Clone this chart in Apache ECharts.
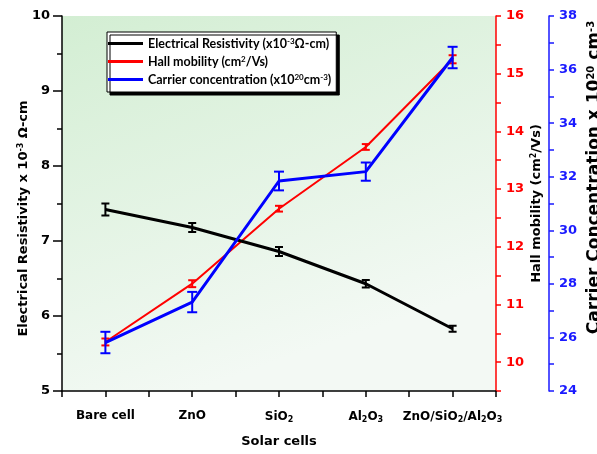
<!DOCTYPE html>
<html>
<head>
<meta charset="utf-8">
<script src="https://cdn.jsdelivr.net/npm/echarts@6/dist/echarts.min.js"></script>
<style>html,body{margin:0;padding:0;background:#fff}#c{width:597px;height:454px}</style>
</head>
<body>
<div id="c"></div>
<script>
const categories = ['Bare cell', 'ZnO', 'SiO2', 'Al2O3', 'ZnO/SiO2/Al2O3'];
const categoryLabels = ['Bare cell', 'ZnO', 'SiO{sub|2}', 'Al{sub|2}O{sub|3}', 'ZnO/SiO{sub|2}/Al{sub|2}O{sub|3}'];
const resistivity = [7.42, 7.18, 6.86, 6.43, 5.83];
const resistivityErr = [0.08, 0.06, 0.06, 0.05, 0.04];
const mobility = [10.35, 11.36, 12.66, 13.73, 15.25];
const mobilityErr = [0.06, 0.06, 0.05, 0.05, 0.07];
const carrier = [25.81, 27.32, 31.84, 32.19, 36.45];
const carrierErr = [0.40, 0.38, 0.35, 0.34, 0.40];
const leftTicks = [5, 6, 7, 8, 9, 10];
const redTicks = [10, 11, 12, 13, 14, 15, 16];
const blueTicks = [24, 26, 28, 30, 32, 34, 36, 38];

const FONT = 'DejaVu Sans';
const LFONT = 'Lato';
const chart = echarts.init(document.getElementById('c'), null, {renderer: 'canvas'});

function errSeries(name, vals, errs, yIdx, color, capW, lw, z) {
  return {
    type: 'custom', name: name + ' err', yAxisIndex: yIdx, z: z, silent: true,
    data: vals.map((v, i) => [i, v - errs[i], v + errs[i]]),
    renderItem: function (params, api) {
      const lo = api.coord([api.value(0), api.value(1)]);
      const hi = api.coord([api.value(0), api.value(2)]);
      const st = {stroke: color, lineWidth: lw};
      return {type: 'group', children: [
        {type: 'line', shape: {x1: lo[0], y1: lo[1], x2: hi[0], y2: hi[1]}, style: st},
        {type: 'line', shape: {x1: lo[0] - capW, y1: lo[1], x2: lo[0] + capW, y2: lo[1]}, style: st},
        {type: 'line', shape: {x1: hi[0] - capW, y1: hi[1], x2: hi[0] + capW, y2: hi[1]}, style: st}
      ]};
    }
  };
}

const legendRich = {
  t: {fontFamily: LFONT, fontWeight: 'bold', fontSize: 12.5, color: '#000'},
  s: {fontFamily: LFONT, fontWeight: 'bold', fontSize: 8, color: '#000', verticalAlign: 'top'}
};
const legendFmt = {
  'Electrical Resistivity': '{t|Electrical Resistivity (x10}{s|-3}{t|Ω-cm)}',
  'Hall mobility': '{t|Hall mobility (cm}{s|2}{t|/Vs)}',
  'Carrier concentration': '{t|Carrier concentration (x10}{s|20}{t|cm}{s|-3}{t|)}'
};
const supRich = {s: {fontFamily: FONT, fontWeight: 'bold', fontSize: 8, color: '#000', verticalAlign: 'top'}};
const supRichBig = {s: {fontFamily: FONT, fontWeight: 'bold', fontSize: 10, color: '#000', verticalAlign: 'top'}};

const option = {
  animation: false,
  backgroundColor: '#fff',
  grid: {
    left: 62, right: 101, top: 16, bottom: 63, show: true, borderWidth: 0,
    containLabel: false, outerBoundsMode: 'none',
    backgroundColor: {type: 'linear', x: 0, y: 0, x2: 0.3, y2: 1, colorStops: [
      {offset: 0, color: '#d3eed3'}, {offset: 1, color: '#f3f9f4'}]}
  },
  legend: {
    left: 107, top: 32, orient: 'vertical', itemGap: 5, itemWidth: 35, itemHeight: 3,
    icon: 'rect', itemTextGap: 4, padding: [5, 5, 6, 1],
    backgroundColor: '#fff', borderColor: '#000', borderWidth: 1,
    shadowColor: '#000', shadowOffsetX: 3, shadowOffsetY: 3, shadowBlur: 0,
    data: ['Electrical Resistivity', 'Hall mobility', 'Carrier concentration'],
    formatter: n => legendFmt[n],
    textStyle: {rich: legendRich}
  },
  xAxis: [{
    type: 'category', data: categories, boundaryGap: true,
    name: 'Solar cells', nameLocation: 'middle', nameGap: 44,
    nameTextStyle: {fontFamily: FONT, fontWeight: 'bold', fontSize: 13, color: '#000'},
    axisLine: {lineStyle: {color: '#000', width: 1.5}},
    axisTick: {show: false},
    axisLabel: {
      margin: 19, interval: 0,
      formatter: (v, i) => '{m|' + categoryLabels[i].replace(/\{sub\|(\d)\}/g, '}{sub|$1}{m|') + '}',
      rich: {
        m: {fontFamily: FONT, fontWeight: 'bold', fontSize: 12, color: '#000'},
        sub: {fontFamily: FONT, fontWeight: 'bold', fontSize: 8, color: '#000', verticalAlign: 'bottom', padding: [6, 0, 0, 0]}
      }
    },
    splitLine: {show: false}
  }, {
    type: 'category', data: ['', '', '', '', '', '', '', '', '', ''], boundaryGap: true, position: 'bottom',
    axisLine: {show: false}, axisLabel: {show: false}, splitLine: {show: false},
    axisTick: {show: true, length: 6, lineStyle: {color: '#000', width: 1.5}}
  }],
  yAxis: [{
    type: 'value', min: 5, max: 10, interval: 1, position: 'left',
    name: 'Electrical Resistivity x 10{s|-3} Ω-cm', nameLocation: 'middle', nameGap: 32, nameRotate: 90,
    nameMoveOverlap: false,
    nameTextStyle: {fontFamily: FONT, fontWeight: 'bold', fontSize: 13, color: '#000', padding: [0, 30, 0, 0], rich: supRich},
    axisLine: {show: true, lineStyle: {color: '#000', width: 1.5}},
    axisTick: {show: true, length: 9, lineStyle: {color: '#000', width: 1.5}},
    minorTick: {show: true, splitNumber: 2, length: 5, lineStyle: {color: '#000', width: 1.5}},
    axisLabel: {fontFamily: FONT, fontWeight: 'bold', fontSize: 13, color: '#000', margin: 12,
      formatter: v => leftTicks.includes(v) ? String(v) : ''},
    splitLine: {show: false}
  }, {
    type: 'value', min: 9.5, max: 16, interval: 0.5, position: 'right',
    name: 'Hall mobility (cm{s|2}/Vs)', nameLocation: 'middle', nameGap: 34, nameRotate: 90,
    nameMoveOverlap: false,
    nameTextStyle: {fontFamily: FONT, fontWeight: 'bold', fontSize: 13, color: '#000', rich: supRich},
    axisLine: {show: true, lineStyle: {color: '#ff0000', width: 1.5}},
    axisTick: {show: true, length: 5, lineStyle: {color: '#ff0000', width: 1.5}},
    axisLabel: {fontFamily: FONT, fontWeight: 'bold', fontSize: 13, color: '#ff0000', margin: 10,
      formatter: v => redTicks.includes(v) ? String(v) : ''},
    splitLine: {show: false}
  }, {
    type: 'value', min: 24, max: 38, interval: 1, position: 'right', offset: 53,
    name: 'Carrier Concentration x 10{s|20} cm{s|-3}', nameLocation: 'middle', nameGap: 37, nameRotate: 90,
    nameMoveOverlap: false,
    nameTextStyle: {fontFamily: FONT, fontWeight: 'bold', fontSize: 17, color: '#000', padding: [0, 0, 0, 52], rich: supRichBig},
    axisLine: {show: true, lineStyle: {color: '#1a1aff', width: 1.5}},
    axisTick: {show: true, length: 5, lineStyle: {color: '#1a1aff', width: 1.5}},
    axisLabel: {fontFamily: FONT, fontWeight: 'bold', fontSize: 13, color: '#1a1aff', margin: 10,
      formatter: v => blueTicks.includes(v) ? String(v) : ''},
    splitLine: {show: false}
  }],
  series: [
    {name: 'Hall mobility', type: 'line', yAxisIndex: 1, data: mobility, symbol: 'none', z: 3,
      lineStyle: {color: '#ff0000', width: 2}, itemStyle: {color: '#ff0000'}},
    errSeries('Hall mobility', mobility, mobilityErr, 1, '#ff0000', 4, 2, 3),
    {name: 'Electrical Resistivity', type: 'line', yAxisIndex: 0, data: resistivity, symbol: 'none', z: 4,
      lineStyle: {color: '#000', width: 3}, itemStyle: {color: '#000'}},
    errSeries('Electrical Resistivity', resistivity, resistivityErr, 0, '#000', 4, 2, 4),
    {name: 'Carrier concentration', type: 'line', yAxisIndex: 2, data: carrier, symbol: 'none', z: 5,
      lineStyle: {color: '#0000ff', width: 3}, itemStyle: {color: '#0000ff'}},
    errSeries('Carrier concentration', carrier, carrierErr, 2, '#0000ff', 5, 2, 5)
  ]
};
chart.setOption(option);
</script>
</body>
</html>
